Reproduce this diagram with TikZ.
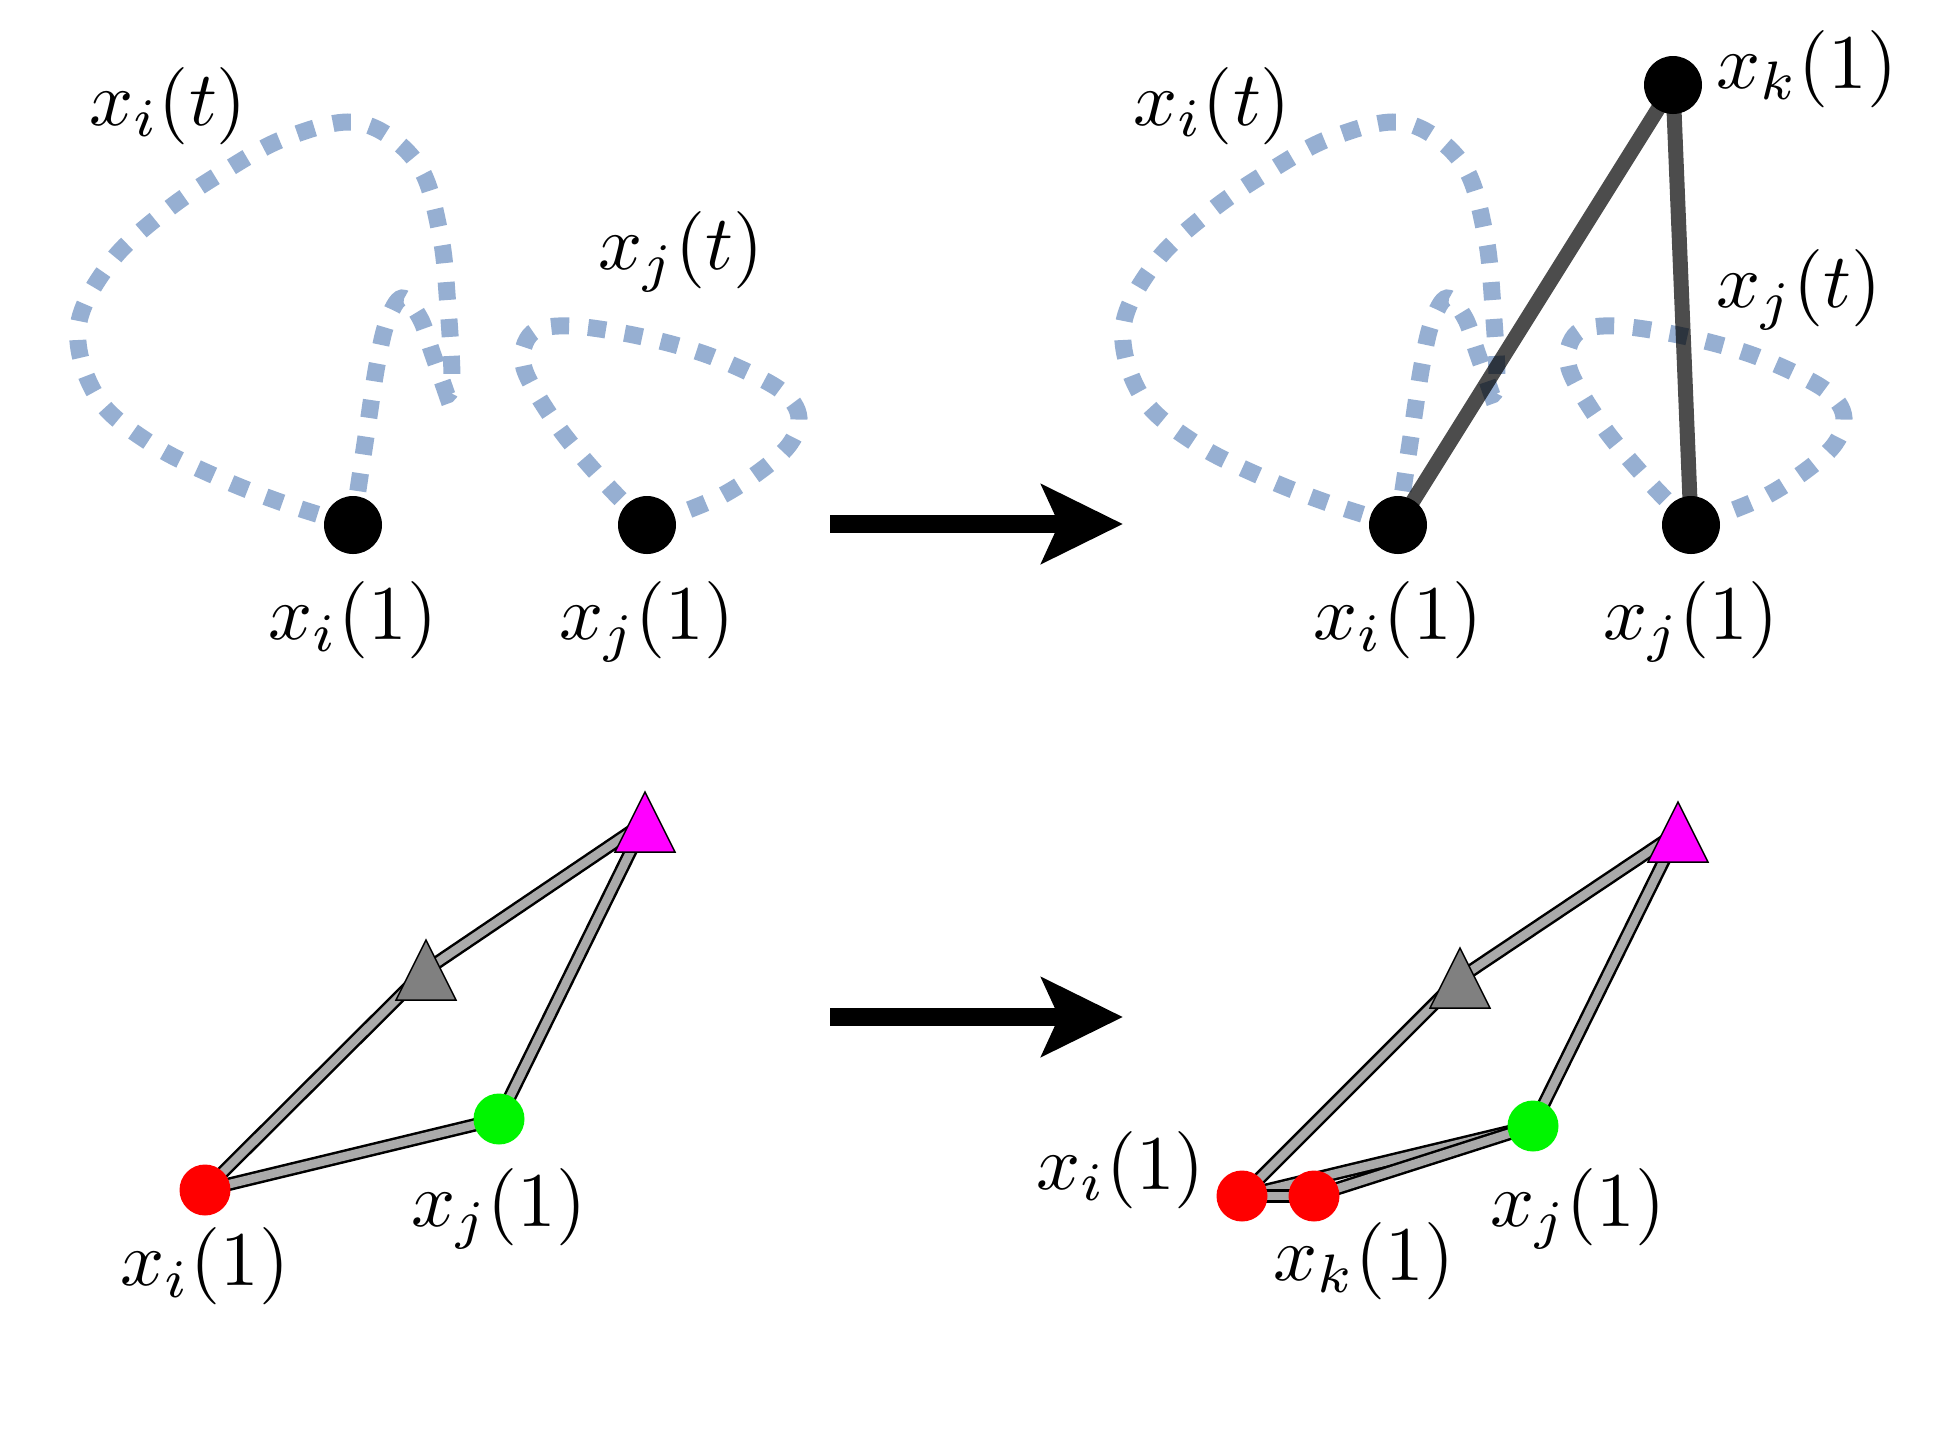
\documentclass[tikz,border=0pt]{standalone}
\usepackage{amsmath}
\usepackage{xcolor}
\usepackage{tikz}
\usetikzlibrary{arrows.meta,positioning,backgrounds}

\definecolor{trajblue}{RGB}{150,175,210}
\definecolor{dotgreen}{RGB}{0,245,0}
\definecolor{bondgray}{RGB}{170,170,170}
\definecolor{trimagenta}{RGB}{255,0,255}
\definecolor{trigray}{RGB}{128,128,128}
\newcommand{\mlab}[1]{\scalebox{2.2}{$#1$}}

\begin{document}
\begin{tikzpicture}[
    dot/.style={circle, fill=black, minimum size=0.58cm, inner sep=0pt},
    pdot/.style={circle, minimum size=0.51cm, inner sep=0pt},
    lbl/.style={inner sep=0pt},
    traj/.style={trajblue, line width=0.17cm, dash pattern=on 0.18cm off 0.19cm},
    link/.style={black, opacity=0.7, line width=0.15cm},
    bond/.style={draw=black, line width=0.025cm, double=bondgray, double distance=0.085cm},
    marker/.style={draw=black, line width=0.015cm},
    arrow/.style={line width=0.18cm, -{Stealth[length=0.81cm, width=0.78cm, inset=0.17cm]}}
]
\useasboundingbox (0,0) rectangle (19.5,-14.48);

% Top left: two trajectories
\node[dot] (xi1) at (3.53,-5.25) {};
\node[dot] (xj1) at (6.47,-5.25) {};
\node[lbl, below=0.26cm of xi1] (lxi1) {\mlab{x_i(1)}};
\node[lbl, below=0.26cm of xj1] (lxj1) {\mlab{x_j(1)}};
\node[lbl] (lxit1) at (1.68,-1.06) {\mlab{x_i(t)}};
\node[lbl] (lxjt1) at (6.81,-2.52) {\mlab{x_j(t)}};

% Top right: same trajectories plus new point x_k
\node[dot] (xi2) at (13.98,-5.25) {};
\node[dot] (xj2) at (16.91,-5.25) {};
\node[dot] (xk2) at (16.73,-0.85) {};
\node[lbl, below=0.26cm of xi2] (lxi2) {\mlab{x_i(1)}};
\node[lbl, below=0.26cm of xj2] (lxj2) {\mlab{x_j(1)}};
\node[lbl, right=0.13cm of xk2, yshift=0.16cm] (lxk2) {\mlab{x_k(1)}};
\node[lbl] (lxit2) at (12.12,-1.06) {\mlab{x_i(t)}};
\node[lbl] (lxjt2) at (17.99,-2.90) {\mlab{x_j(t)}};

\begin{scope}[on background layer]
\foreach \dx in {0,10.45} {
  \draw[traj, xshift=\dx cm] plot[smooth, tension=0.6] coordinates {(3.53,-5.25) (2.83,-5.03) (2.17,-4.77) (1.50,-4.43) (0.97,-3.97) (0.78,-3.28) (1.10,-2.63) (1.63,-2.13) (2.23,-1.72) (2.88,-1.37) (3.60,-1.23) (4.17,-1.63) (4.40,-2.33) (4.48,-3.07) (4.52,-3.80) (4.47,-3.95)}
    -- plot[smooth, tension=0.6] coordinates {(4.47,-3.95) (4.32,-3.52) (4.20,-3.18) (4.02,-2.98) (3.87,-3.22) (3.77,-3.65) (3.67,-4.30) (3.58,-4.90) (3.53,-5.25)};
  \draw[traj, xshift=\dx cm] plot[smooth, tension=0.55] coordinates {(6.47,-5.25) (6.07,-4.85) (5.59,-4.28) (5.24,-3.68) (5.32,-3.33) (5.72,-3.26) (6.43,-3.37) (7.13,-3.57) (7.79,-3.89) (7.99,-4.18) (7.83,-4.52) (7.23,-4.95) (6.47,-5.25)};
}
\end{scope}

\draw[link] (xi2.center) -- (xk2.center);
\draw[link] (xj2.center) -- (xk2.center);

% Arrows
\coordinate (a1) at (8.30,-5.24);
\coordinate (a2) at (11.23,-5.24);
\coordinate (b1) at (8.30,-10.17);
\coordinate (b2) at (11.23,-10.17);
\draw[arrow] (a1) -- (a2);
\draw[arrow] (b1) -- (b2);

% Bottom left: graph
\node[pdot, fill=red] (ri1) at (2.05,-11.90) {};
\node[pdot, fill=dotgreen] (gj1) at (4.99,-11.19) {};
\coordinate (gt1) at (4.26,-9.70);
\coordinate (mt1) at (6.45,-8.22);
\node[lbl, below=0.11cm of ri1] (lri1) {\mlab{x_i(1)}};
\node[lbl, below=0.23cm of gj1] (lgj1) {\mlab{x_j(1)}};

% Bottom right: graph with x_k
\node[pdot, fill=red] (ri2) at (12.42,-11.96) {};
\node[pdot, fill=red] (rk2) at (13.14,-11.96) {};
\node[pdot, fill=dotgreen] (gj2) at (15.33,-11.26) {};
\coordinate (gt2) at (14.60,-9.78);
\coordinate (mt2) at (16.78,-8.32);
\node[lbl, left=0.1cm of ri2, yshift=0.26cm] (lri2) {\mlab{x_i(1)}};
\node[lbl, below=0cm of rk2, xshift=0.5cm] (lrk2) {\mlab{x_k(1)}};
\node[lbl, below=0.16cm of gj2, xshift=0.45cm] (lgj2) {\mlab{x_j(1)}};

\foreach \c/\col in {gt1/trigray, mt1/trimagenta, gt2/trigray, mt2/trimagenta}
  \draw[marker, fill=\col] (\c) ++(0,0.3) -- ++(-0.3,-0.6) -- ++(0.6,0) -- cycle;

\begin{scope}[on background layer]
\draw[bond] (ri1.center) -- (gt1);
\draw[bond] (gt1) -- (mt1);
\draw[bond] (mt1) -- (gj1.center);
\draw[bond] (gj1.center) -- (ri1.center);
\draw[bond] (ri2.center) -- (gt2);
\draw[bond] (gt2) -- (mt2);
\draw[bond] (mt2) -- (gj2.center);
\draw[bond] (gj2.center) -- (ri2.center);
\draw[bond] (gj2.center) -- (rk2.center);
\draw[bond] (ri2.center) -- (rk2.center);
\end{scope}

\end{tikzpicture}
\end{document}
